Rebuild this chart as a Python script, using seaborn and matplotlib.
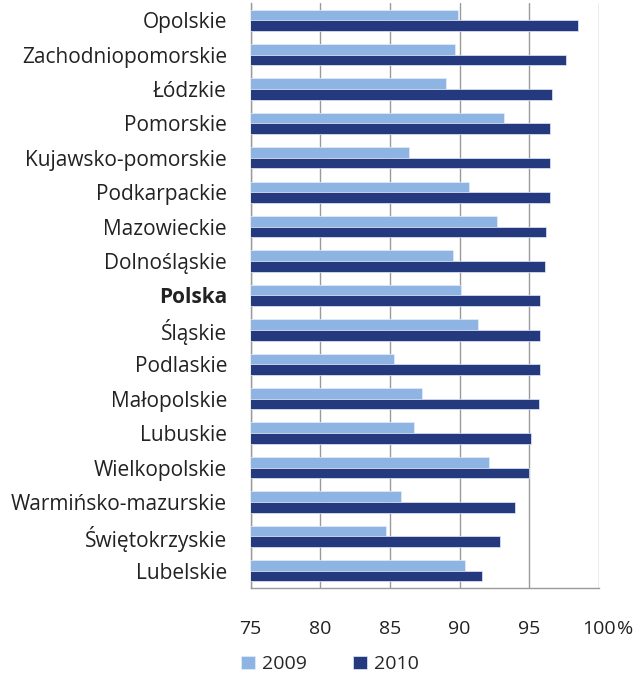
import pandas as pd
import matplotlib
matplotlib.use("Agg")
import matplotlib.pyplot as plt
import seaborn as sns

regions = ["Opolskie", "Zachodniopomorskie", "Łódzkie", "Pomorskie",
           "Kujawsko-pomorskie", "Podkarpackie", "Mazowieckie", "Dolnośląskie",
           "Polska", "Śląskie", "Podlaskie", "Małopolskie", "Lubuskie",
           "Wielkopolskie", "Warmińsko-mazurskie", "Świętokrzyskie", "Lubelskie"]
val_2009 = [89.9, 89.7, 89.0, 93.2, 86.4, 90.7, 92.7, 89.5,
            90.1, 91.3, 85.3, 87.3, 86.7, 92.1, 85.8, 84.7, 90.4]
val_2010 = [98.5, 97.6, 96.6, 96.5, 96.5, 96.5, 96.2, 96.1,
            95.8, 95.8, 95.8, 95.7, 95.1, 95.0, 94.0, 92.9, 91.6]
years = ["2009", "2010"]
x_ticks = [75, 80, 85, 90, 95, 100]

df = pd.DataFrame({"region": regions * 2,
                   "year": [years[0]] * len(regions) + [years[1]] * len(regions),
                   "value": val_2009 + val_2010})

sns.set_style("white")
plt.rcParams["font.family"] = ["Open Sans", "DejaVu Sans"]

fig = plt.figure(figsize=(6.41, 6.74), dpi=100)
ax = fig.add_axes([0.391, 0.1276, 0.5435, 0.868])

palette = {"2009": "#8EB4E3", "2010": "#253A7E"}
sns.barplot(data=df, y="region", x="value", hue="year", order=regions,
            hue_order=years, palette=palette, orient="h", width=0.62,
            saturation=1, edgecolor="#e4ecf7", linewidth=0.5, ax=ax, zorder=3)

ax.set_xlim(75, 100)
ax.set_ylim(len(regions) - 0.5, -0.5)
ax.set_xticks(x_ticks)
ax.set_xticklabels([str(t) for t in x_ticks])
ax.annotate("%", xy=(100, 0), xycoords=ax.get_xaxis_transform(),
            xytext=(13, -23), textcoords="offset points", ha="left",
            va="top", fontsize=14, color="#222222")
ax.xaxis.grid(True, color="#9a9a9a", linewidth=1.0, zorder=0)
ax.set_xlabel("")
ax.set_ylabel("")

ax.set_yticks(range(len(regions)))
ax.set_yticklabels(regions)
ax.set_yticks([i + 0.5 for i in range(-1, len(regions))], minor=True)
ax.tick_params(axis="y", which="major", length=0, labelsize=15,
               labelcolor="#222222", pad=17)
ax.tick_params(axis="y", which="minor", length=5, color="#9a9a9a", width=1)
ax.tick_params(axis="x", length=5, color="#9a9a9a", width=1, labelsize=14,
               labelcolor="#222222", pad=18)
for lbl in ax.get_yticklabels():
    if lbl.get_text() == "Polska":
        lbl.set_fontweight("bold")

for s in ["top", "right"]:
    ax.spines[s].set_visible(False)
for s in ["left", "bottom"]:
    ax.spines[s].set_color("#9a9a9a")
    ax.spines[s].set_linewidth(1)

handles, labels = ax.get_legend_handles_labels()
ax.legend_.remove()
fig.legend(handles, labels, loc="lower center", bbox_to_anchor=(0.515, -0.025),
           ncol=2, frameon=False, fontsize=14, handlelength=0.7,
           handleheight=0.7, columnspacing=2.4, handletextpad=0.35)

fig.savefig("out.png", dpi=100)
